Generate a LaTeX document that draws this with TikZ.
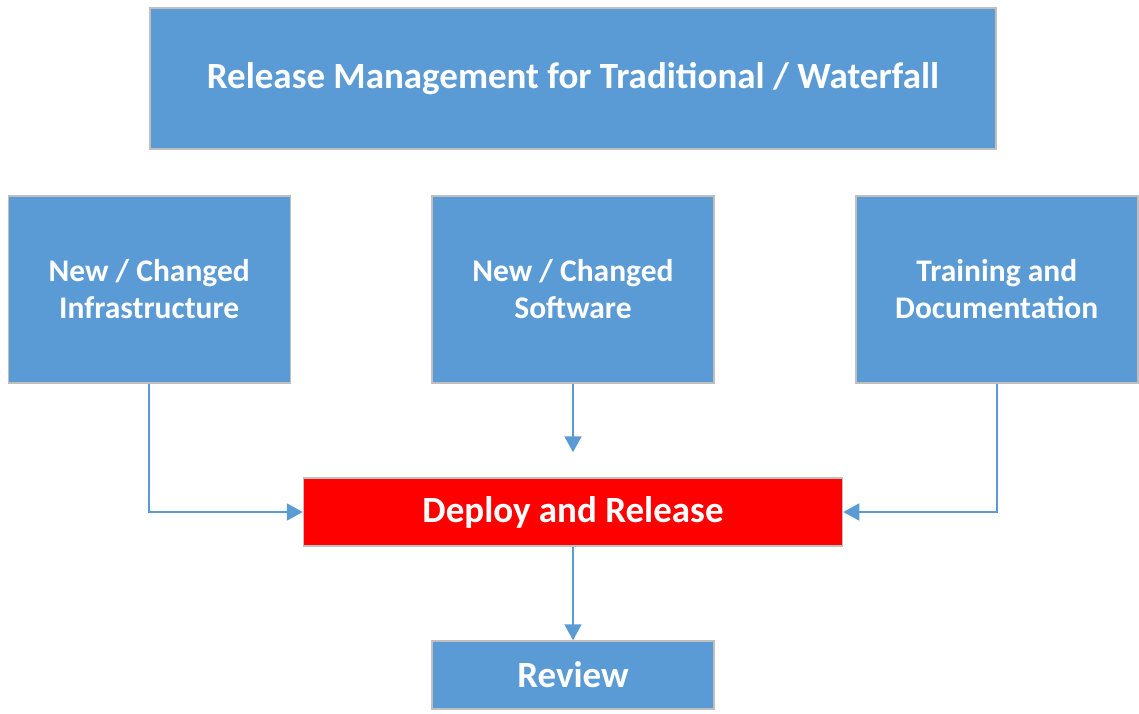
\documentclass[tikz,border=0pt]{standalone}
\usepackage{fontspec}
\setmainfont{Carlito}
\usepackage{tikz}
\usetikzlibrary{positioning, arrows.meta}
\definecolor{boxblue}{HTML}{5B9BD5}
\definecolor{boxedge}{HTML}{BFBFBF}
\tikzstyle{stage} = [rectangle, fill=boxblue, draw=boxedge, line width=1.5pt,
    text=white, align=center, font=\bfseries\fontsize{31.5}{37}\selectfont]
\tikzstyle{wide} = [stage, minimum width=282pt, minimum height=187pt]
\tikzstyle{flat} = [stage, minimum height=68pt, font=\bfseries\fontsize{37}{42}\selectfont]
\tikzstyle{arrow} = [line width=2pt, draw=boxblue, -{Triangle[width=17pt,length=16pt]}]

\begin{document}
\begin{tikzpicture}[x=1pt, y=-1pt]
            \useasboundingbox (0,0) rectangle (1139,713);
            % Heading
            \node[stage, minimum width=846pt, minimum height=141pt,
            font=\bfseries\fontsize{37}{42}\selectfont] (title) at (573,78.5)
            {Release Management for Traditional / Waterfall};
            % Inputs
            \node[wide, below=45.5pt of title.south west] (infra) {New / Changed\\Infrastructure};
            \node[wide, below=45.5pt of title] (soft) {New / Changed\\Software};
            \node[wide, below=45.5pt of title.south east] (docs) {Training and\\Documentation};
            % Release steps
            \node[flat, minimum width=539pt, fill=red, below=93.5pt of soft] (deploy) {Deploy and Release};
            \node[flat, minimum width=282pt, below=93.5pt of deploy] (review) {Review};
            \coordinate[above=25pt of deploy.north] (softend);
            % Arrows
            \draw[arrow] (infra.south) |- (deploy.west);
            \draw[arrow] (soft.south) -- (softend);
            \draw[arrow] (docs.south) |- (deploy.east);
            \draw[arrow] (deploy) -- (review);
        \end{tikzpicture}
\end{document}
